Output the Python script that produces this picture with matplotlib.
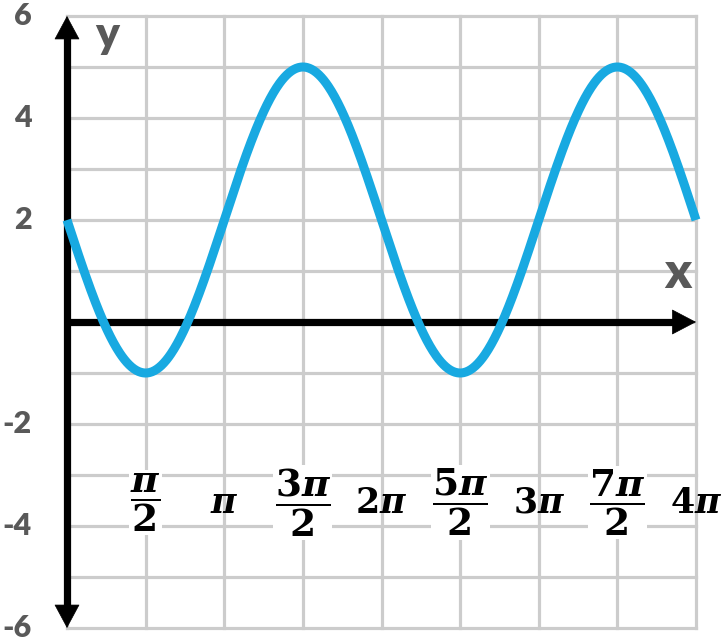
import numpy as np
import matplotlib
matplotlib.use("Agg")
import matplotlib.pyplot as plt

plt.rcParams['mathtext.fontset'] = 'custom'
plt.rcParams['mathtext.rm'] = 'DejaVu Serif:bold'
plt.rcParams['mathtext.it'] = 'DejaVu Serif:bold:italic'
plt.rcParams['mathtext.bf'] = 'DejaVu Serif:bold'

# ---- data ----
# curve: y = midline - amplitude * sin(x), over 0..4pi
midline = 2.0
amplitude = 3.0
x_start = 0.0
x_end = 4 * np.pi

y_ticks = [6, 4, 2, -2, -4, -6]
y_tick_labels = ["6", "4", "2", "-2", "-4", "-6"]

x_label_pos = [np.pi / 2, np.pi, 3 * np.pi / 2, 2 * np.pi,
               5 * np.pi / 2, 3 * np.pi, 7 * np.pi / 2, 4 * np.pi]
x_label_text = [r"$\dfrac{\pi}{2}$", r"$\pi$", r"$\dfrac{3\pi}{2}$", r"$2\pi$",
                r"$\dfrac{5\pi}{2}$", r"$3\pi$", r"$\dfrac{7\pi}{2}$", r"$4\pi$"]
x_label_is_frac = [True, False, True, False, True, False, True, False]

x_grid = [k * np.pi / 2 for k in range(9)]
y_grid = list(range(-6, 7))

# ---- figure ----
W, H = 722, 641
fig = plt.figure(figsize=(W / 100, H / 100), dpi=100)
left, right, top, bottom = 67, 696, 16, 628
ax = fig.add_axes([left / W, 1 - bottom / H, (right - left) / W, (bottom - top) / H])
ax.set_xlim(x_start, x_end)
ax.set_ylim(-6, 6)
for s in ax.spines.values():
    s.set_visible(False)
ax.set_xticks([])
ax.set_yticks([])

grid_color = '#cccccc'
for gx in x_grid:
    ax.plot([gx, gx], [-6, 6], color=grid_color, lw=2.3, zorder=1, clip_on=False,
            solid_capstyle='projecting')
for gy in y_grid:
    ax.plot([x_start, x_end], [gy, gy], color=grid_color, lw=2.3, zorder=1, clip_on=False,
            solid_capstyle='projecting')

# axes
ax.plot([0, 0], [-5.6, 5.6], color='black', lw=5.2, zorder=3, clip_on=False,
        solid_capstyle='butt')
ax.annotate('', xy=(0, 6), xytext=(0, -6),
            arrowprops=dict(arrowstyle='<|-|>,head_length=0.8,head_width=0.43',
                            mutation_scale=20, lw=0.5, color='black',
                            shrinkA=0, shrinkB=0), zorder=3, annotation_clip=False)
ax.plot([0, x_end - 0.35], [0, 0], color='black', lw=5.2, zorder=3, clip_on=False,
        solid_capstyle='butt')
ax.annotate('', xy=(x_end, 0), xytext=(0, 0),
            arrowprops=dict(arrowstyle='-|>,head_length=0.82,head_width=0.43',
                            mutation_scale=20, lw=0.5, color='black',
                            shrinkA=0, shrinkB=0), zorder=3, annotation_clip=False)

# curve
xs = np.linspace(x_start, x_end, 800)
ys = midline - amplitude * np.sin(xs)
ax.plot(xs, ys, color='#18a9e1', lw=6.5, zorder=4, clip_on=False, solid_capstyle='butt')

# y tick labels
for v, t in zip(y_ticks, y_tick_labels):
    ax.annotate(t, xy=(0, v), xycoords='data', xytext=(-35, 0), textcoords='offset pixels',
                ha='right', va='center', fontsize=22, fontweight='heavy',
                family='Lato', color='#595959', annotation_clip=False)

# axis letters
ax.text(0.8, 5.62, 'y', fontsize=32, fontweight='heavy', family='Lato', color='#595959',
        ha='center', va='center')
ax.text(12.2, 0.95, 'x', fontsize=36, fontweight='heavy', family='Lato', color='#595959',
        ha='center', va='center')

# x labels
for xp, t, fr in zip(x_label_pos, x_label_text, x_label_is_frac):
    if fr:
        ax.text(xp, -3.54, t, fontsize=27, ha='center', va='center', zorder=5,
                bbox=dict(facecolor='white', edgecolor='none', pad=1))
    else:
        ax.text(xp, -3.54, t, fontsize=25, ha='center', va='center', zorder=5)

fig.savefig('out.png', dpi=100)
